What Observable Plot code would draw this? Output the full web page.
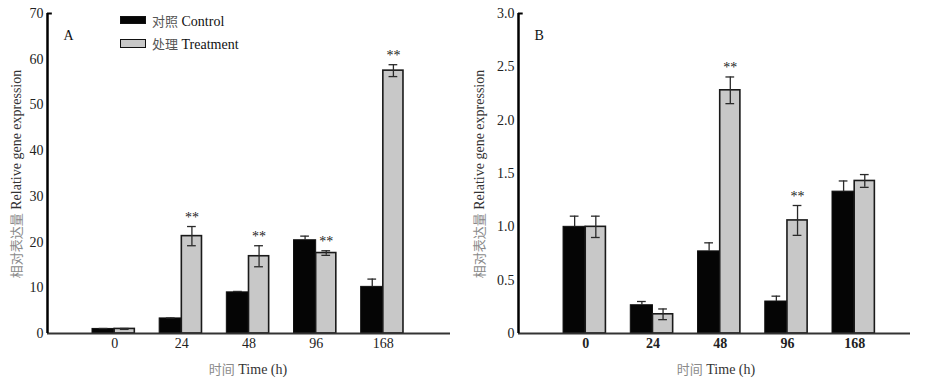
<!DOCTYPE html>
<html>
<head>
<meta charset="utf-8">
<script src="https://cdn.jsdelivr.net/npm/d3@7"></script>
<script src="https://cdn.jsdelivr.net/npm/@observablehq/plot@0.6"></script>
<style>
  body { margin: 0; background: white; }
  #wrap { position: relative; width: 925px; height: 379px; font-family: "Liberation Serif", "Times New Roman", serif; }
  .panel { position: absolute; top: 0; }
  .ytitle { position: absolute; transform: translate(-50%, -50%) rotate(-90deg); white-space: nowrap; font-size: 14px; }
  .xtitle { position: absolute; transform: translate(-50%, -50%); white-space: nowrap; font-size: 14px; }
  .zh { color: #8a8a8a; font-family: "Noto Sans CJK SC", sans-serif; font-size: 13px; }
  .en { color: #333; font-family: "Liberation Serif", "Times New Roman", serif; font-size: 14px; }
  .legrow { position: absolute; white-space: nowrap; display: flex; align-items: center; font-size: 14px; }
  .sw { width: 26px; margin-right: 6px; box-sizing: border-box; }
</style>
</head>
<body>
<div id="wrap"></div>
<script>
// ---- data ----
const times = ["0", "24", "48", "96", "168"];

const controlA    = [1.0, 3.3, 9.0, 20.4, 10.2];
const controlAErr = [0.1, 0.1, 0.2, 0.9, 1.7];
const treatA      = [1.0, 21.3, 16.9, 17.6, 57.5];
const treatAErr   = [0.1, 2.1, 2.3, 0.5, 1.3];
const sigA        = ["", "**", "**", "**", "**"];
const yTicksA     = [0, 10, 20, 30, 40, 50, 60, 70];

const controlB    = [1.0, 0.265, 0.77, 0.30, 1.33];
const controlBErr = [0.1, 0.035, 0.08, 0.05, 0.10];
const treatB      = [1.0, 0.18, 2.28, 1.06, 1.43];
const treatBErr   = [0.1, 0.05, 0.125, 0.14, 0.06];
const sigB        = ["", "", "**", "**", ""];
const yTicksB     = [0, 0.5, 1.0, 1.5, 2.0, 2.5, 3.0];

const seriesZh = ["对照", "处理"];
const seriesEn = ["Control", "Treatment"];
const xTitle = ["时间", "Time (h)"];
const yTitle = ["相对表达量", "Relative gene expression"];

function rows(c, ce, t, te, s) {
  return times.map((lab, i) => ({i: i + 1, lab, c: c[i], ce: ce[i], tr: t[i], te: te[i], sig: s[i]}));
}

function panel({data, yMax, yTicks, fmt, width, marginLeft, marginRight, xMax, letter, boldX}) {
  const cw = 0.33, tw = 0.30, cap = 0.065;
  const cc = d => d.i - cw / 2, tc = d => d.i + tw / 2;
  const ink = "#2a2a2a";
  return Plot.plot({
    width, height: 379,
    marginLeft, marginRight, marginTop: 13, marginBottom: 46,
    style: {fontFamily: "'Liberation Serif', 'Times New Roman', serif", fontSize: "14px", color: "#222", background: "transparent"},
    x: {domain: [0, xMax], axis: null},
    y: {domain: [0, yMax], axis: null},
    marks: [
      Plot.axisY({ticks: yTicks, tickSize: 0, tickPadding: 4, tickFormat: fmt, fontSize: 14}),
      Plot.axisX({ticks: [1, 2, 3, 4, 5], tickSize: 0, tickPadding: 5, tickFormat: i => times[i - 1], fontSize: 14, fontWeight: boldX ? "bold" : "normal"}),
      Plot.rect(data, {x1: d => d.i - cw, x2: d => d.i, y1: 0, y2: "c", fill: "#050505", stroke: "#111", strokeWidth: 1}),
      Plot.rect(data, {x1: d => d.i, x2: d => d.i + tw, y1: 0, y2: "tr", fill: "#c8c8c8", stroke: "#1a1a1a", strokeWidth: 1.6}),
      // control error bars (upper half visible above black bar)
      Plot.ruleX(data, {x: cc, y1: "c", y2: d => d.c + d.ce, stroke: ink, strokeWidth: 1.3}),
      Plot.ruleY(data, {y: d => d.c + d.ce, x1: d => cc(d) - cap, x2: d => cc(d) + cap, stroke: ink, strokeWidth: 1.3}),
      // treatment error bars
      Plot.ruleX(data, {x: tc, y1: d => d.tr - d.te, y2: d => d.tr + d.te, stroke: ink, strokeWidth: 1.3}),
      Plot.ruleY(data, {y: d => d.tr + d.te, x1: d => tc(d) - cap, x2: d => tc(d) + cap, stroke: ink, strokeWidth: 1.3}),
      Plot.ruleY(data, {y: d => d.tr - d.te, x1: d => tc(d) - cap, x2: d => tc(d) + cap, stroke: ink, strokeWidth: 1.3}),
      Plot.text(data.filter(d => d.sig), {x: tc, y: d => d.tr + d.te, text: "sig", dy: -5, lineAnchor: "bottom", fontSize: 14, fill: "#222"}),
      // axis lines
      Plot.ruleY([0], {stroke: "#333", strokeWidth: 2}),
      Plot.ruleX([0], {y1: 0, y2: yMax, stroke: "black", strokeWidth: 2.5}),
      Plot.ruleY([yMax], {x1: 0, x2: xMax * 0.012, stroke: "black", strokeWidth: 2}),
      Plot.text([letter], {frameAnchor: "top-left", dx: 16, dy: 22, lineAnchor: "middle", fontSize: 14, fill: "#111"})
    ]
  });
}

const wrap = document.getElementById("wrap");

const A = panel({
  data: rows(controlA, controlAErr, treatA, treatAErr, sigA),
  yMax: 70, yTicks: yTicksA, fmt: d => String(d),
  width: 460, marginLeft: 47, marginRight: 10, xMax: 6, letter: "A", boldX: false
});
A.classList.add("panel"); A.style.left = "0px";
wrap.appendChild(A);

const B = panel({
  data: rows(controlB, controlBErr, treatB, treatBErr, sigB),
  yMax: 3.0, yTicks: yTicksB, fmt: d => d === 0 ? "0" : d.toFixed(1),
  width: 465, marginLeft: 58, marginRight: 15, xMax: 5.83, letter: "B", boldX: true
});
B.classList.add("panel"); B.style.left = "460px";
wrap.appendChild(B);

function addTitle(cls, parts, x, y) {
  const d = document.createElement("div");
  d.className = cls;
  d.style.left = x + "px"; d.style.top = y + "px";
  d.innerHTML = `<span class="zh">${parts[0]}</span> <span class="en">${parts[1]}</span>`;
  wrap.appendChild(d);
}
addTitle("ytitle", yTitle, 15, 174);
addTitle("ytitle", yTitle, 478, 174);
addTitle("xtitle", xTitle, 248, 368);
addTitle("xtitle", xTitle, 716, 368);

// legend
const fills = ["#050505", "#c8c8c8"];
[0, 1].forEach(k => {
  const row = document.createElement("div");
  row.className = "legrow";
  row.style.left = "120px";
  row.style.top = (k === 0 ? 11 : 34) + "px";
  row.style.height = "18px";
  const sw = document.createElement("div");
  sw.className = "sw";
  sw.style.background = fills[k];
  sw.style.border = "1.5px solid #111";
  sw.style.height = k === 0 ? "8px" : "9px";
  row.appendChild(sw);
  const t = document.createElement("span");
  t.innerHTML = `<span class="zh" style="color:#555">${seriesZh[k]}</span> <span class="en" style="color:#111">${seriesEn[k]}</span>`;
  row.appendChild(t);
  wrap.appendChild(row);
});
</script>
</body>
</html>
